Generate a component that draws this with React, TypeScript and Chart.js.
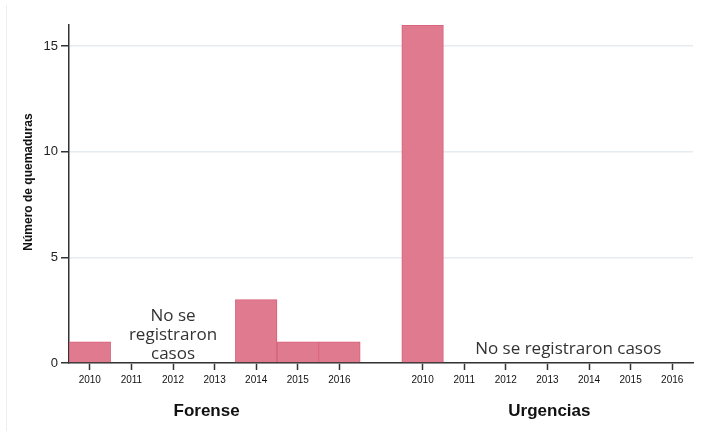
import React, { useEffect, useRef } from "react";
import { Chart, registerables } from "chart.js";

Chart.register(...registerables);

const years = ["2010", "2011", "2012", "2013", "2014", "2015", "2016"];
const forense = [1, 0, 0, 0, 3, 1, 1];
const urgencias = [16, 0, 0, 0, 0, 0, 0];
const groups = ["Forense", "Urgencias"];
const yTicks = [0, 5, 10, 15];
const yTitle = "Número de quemaduras";
const noCases = "No se registraron casos";

const labels = [...years, "", ...years];
const values: (number | null)[] = [...forense, null, ...urgencias];

const textPlugin = {
  id: "texts",
  afterDraw(chart: any) {
    const { ctx } = chart;
    const x = chart.scales.x;
    const y = chart.scales.y;
    ctx.save();
    // faint frame line
    ctx.strokeStyle = "#eeeeee";
    ctx.lineWidth = 1;
    ctx.beginPath();
    ctx.moveTo(6.5, 5);
    ctx.lineTo(6.5, 431);
    ctx.stroke();

    // y title
    ctx.fillStyle = "#111";
    ctx.font = "bold 12px 'Liberation Sans', Arial, sans-serif";
    ctx.textAlign = "center";
    ctx.textBaseline = "middle";
    ctx.save();
    ctx.translate(29, 182);
    ctx.rotate(-Math.PI / 2);
    ctx.fillText(yTitle, 0, 0);
    ctx.restore();

    // group labels
    ctx.font = "bold 17px 'Liberation Sans', Arial, sans-serif";
    const fx = (x.getPixelForValue(0) + x.getPixelForValue(6)) / 2 - 8;
    const ux = (x.getPixelForValue(8) + x.getPixelForValue(14)) / 2 + 2;
    ctx.fillText(groups[0], fx, 411);
    ctx.fillText(groups[1], ux, 411);

    // no cases labels
    ctx.fillStyle = "#333";
    ctx.font = "17px 'Open Sans', sans-serif";
    const c1 = x.getPixelForValue(2);
    const words = noCases.split(" ");
    const lines = [words.slice(0, 2).join(" "), words[2], words[3]];
    const base = y.getPixelForValue(0);
    lines.forEach((l, i) => ctx.fillText(l, c1, base - 47 + i * 19));
    const c2 = (x.getPixelForValue(9) + x.getPixelForValue(14)) / 2;
    ctx.fillText(noCases, c2, base - 14);
    ctx.restore();
  },
};

export default function App() {
  const ref = useRef<HTMLCanvasElement>(null);
  useEffect(() => {
    document.body.style.margin = "0";
    const chart = new Chart(ref.current!, {
      type: "bar",
      data: {
        labels,
        datasets: [
          {
            data: values,
            backgroundColor: "rgb(224,122,143)",
            borderColor: "rgb(214,96,122)",
            borderWidth: 1,
            borderSkipped: "start",
            categoryPercentage: 1,
            barPercentage: 1,
          },
        ],
      },
      options: {
        animation: false,
        responsive: false,
        layout: { padding: { top: 25, right: 28, left: 0, bottom: 0 } },
        plugins: { legend: { display: false }, tooltip: { enabled: false } },
        scales: {
          x: {
            offset: true,
            grid: {
              display: true,
              offset: false,
              drawOnChartArea: false,
              drawTicks: true,
              tickLength: 7,
              tickWidth: 1.5,
              tickColor: (c: any) => (labels[c.index] === "" ? "rgba(0,0,0,0)" : "#333"),
            },
            border: { display: true, color: "#333", width: 1.5 },
            ticks: {
              autoSkip: false,
              maxRotation: 0,
              padding: 4,
              color: "#111",
              font: { size: 10, family: "'Liberation Sans', Arial, sans-serif" },
            },
            afterFit: (s: any) => {
              s.height = 68;
            },
          },
          y: {
            min: 0,
            max: 16,
            afterBuildTicks: (s: any) => {
              s.ticks = yTicks.map((v) => ({ value: v }));
            },
            grid: {
              color: "#e4ecf1",
              lineWidth: 1.5,
              drawTicks: true,
              tickLength: 8,
              tickWidth: 1.5,
              tickColor: "#333",
            },
            border: { display: true, color: "#333", width: 1.5 },
            ticks: {
              padding: 3,
              color: "#222",
              font: { size: 13, family: "'Liberation Sans', Arial, sans-serif" },
            },
            afterFit: (s: any) => {
              s.width = 69;
            },
          },
        },
      },
      plugins: [textPlugin],
    });
    return () => chart.destroy();
  }, []);
  return (
    <div style={{ width: 721, height: 431 }}>
      <canvas ref={ref} width={721} height={431} style={{ display: "block" }} />
    </div>
  );
}
